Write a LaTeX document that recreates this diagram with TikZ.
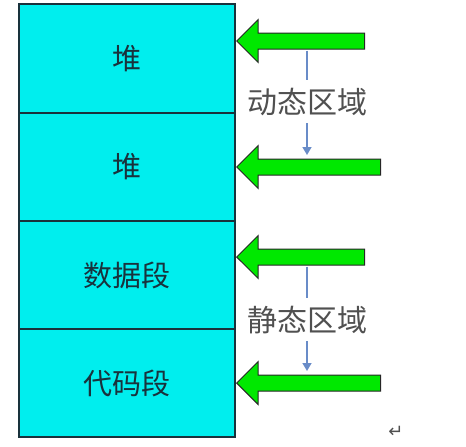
\documentclass[tikz,border=0pt]{standalone}
\usepackage{fontspec}
\newfontfamily\cjk{Noto Sans CJK SC}
\newfontfamily\sym{DejaVu Sans}
\usetikzlibrary{positioning,shapes.arrows,arrows.meta}
\definecolor{segfill}{RGB}{0,238,238}
\definecolor{segline}{RGB}{25,50,60}
\definecolor{greenarrow}{RGB}{0,232,0}
\definecolor{bluelink}{RGB}{105,140,200}
\definecolor{labelgray}{RGB}{80,80,80}
\tikzstyle{block} = [draw=segline, fill=segfill, rectangle, line width=2pt,
    minimum height=108.25pt, minimum width=216pt, text=segline,
    font=\cjk\fontsize{29}{32}\selectfont]
\tikzstyle{pointer} = [single arrow, draw=black!85, fill=greenarrow, line width=1pt,
    shape border rotate=180, minimum width=42pt, inner sep=7.5pt,
    single arrow head extend=13.5pt, single arrow head indent=0pt, anchor=tip]
\tikzstyle{zone} = [text=labelgray, font=\cjk\fontsize{30}{32}\selectfont]
\tikzstyle{link} = [bluelink, line width=1.6pt, -{Triangle[width=9pt,length=8pt]}]

\begin{document}
\begin{tikzpicture}[x=1pt, y=-1pt, node distance=108.25pt]
          \useasboundingbox (0,0) rectangle (466,447);
          \node (heapa) [block] at (127,58.5) {堆};
          \node (heapb) [block, below of=heapa] {堆};
          \node (data) [block, below of=heapb] {数据段};
          \node (code) [block, below of=data] {代码段};

          \node (arra) [pointer, minimum height=128pt] at (236,41) {};
          \node (arrb) [pointer, minimum height=144pt] at (236,167) {};
          \node (arrc) [pointer, minimum height=128pt] at (236,257) {};
          \node (arrd) [pointer, minimum height=144pt] at (236,383) {};

          \node (dyn) [zone] at (307,102) {动态区域};
          \node (sta) [zone] at (307,320) {静态区域};

          \draw [bluelink, line width=1.6pt] ([yshift=-9.5pt]dyn.north |- arra.center) -- ([yshift=5pt]dyn.north);
          \draw [link] ([yshift=-4pt]dyn.south) -- ([yshift=12pt]arrb.center -| dyn.south);
          \draw [bluelink, line width=1.6pt] ([yshift=-9.5pt]sta.north |- arrc.center) -- ([yshift=5pt]sta.north);
          \draw [link] ([yshift=-4pt]sta.south) -- ([yshift=12pt]arrd.center -| sta.south);

          \node (ret) [text=labelgray, font=\sym\fontsize{18}{20}\selectfont] at (396,432) {↵};
        \end{tikzpicture}
\end{document}
